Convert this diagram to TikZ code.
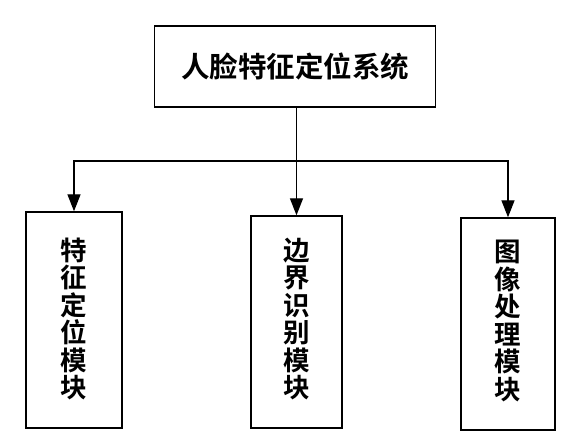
\documentclass[tikz,border=0pt]{standalone}
\usepackage{fontspec}
\newfontfamily\cjk{Noto Sans CJK SC Bold}
\usetikzlibrary{arrows.meta}
\begin{document}
\begin{tikzpicture}[x=1pt,y=-1pt,
  box/.style={draw,line width=1.4pt,inner sep=0pt},
  conn/.style={line width=1.4pt},
  arr/.style={conn,-{Triangle[length=17pt,width=13pt]}},
  vtext/.style={font=\cjk\fontsize{26.5}{27.5}\selectfont,align=center}]
\useasboundingbox[fill=white] (0,0) rectangle (568,441);
\node[box,minimum width=281pt,minimum height=81pt,font=\cjk\fontsize{28.5}{30}\selectfont] (top) at (295,66.5) {人脸特征定位系统};
\node[box,minimum width=96pt,minimum height=216pt] (l) at (74,320) {};
\node[box,minimum width=91pt,minimum height=212pt] (m) at (296.5,322) {};
\node[box,minimum width=94pt,minimum height=212pt] (r) at (508,324) {};
\node[vtext] (lt) at (74,319) {特\\征\\定\\位\\模\\块};
\node[vtext] (mt) at (297,319) {边\\界\\识\\别\\模\\块};
\node[vtext] (rt) at (508,321) {图\\像\\处\\理\\模\\块};
\coordinate (bus) at (296.5,161);
\draw[conn] (top.south -| bus) -- (bus);
\draw[arr] (bus) -| (l.north);
\draw[arr] (bus) -- (m.north);
\draw[arr] (bus) -| (r.north);
\end{tikzpicture}
\end{document}
